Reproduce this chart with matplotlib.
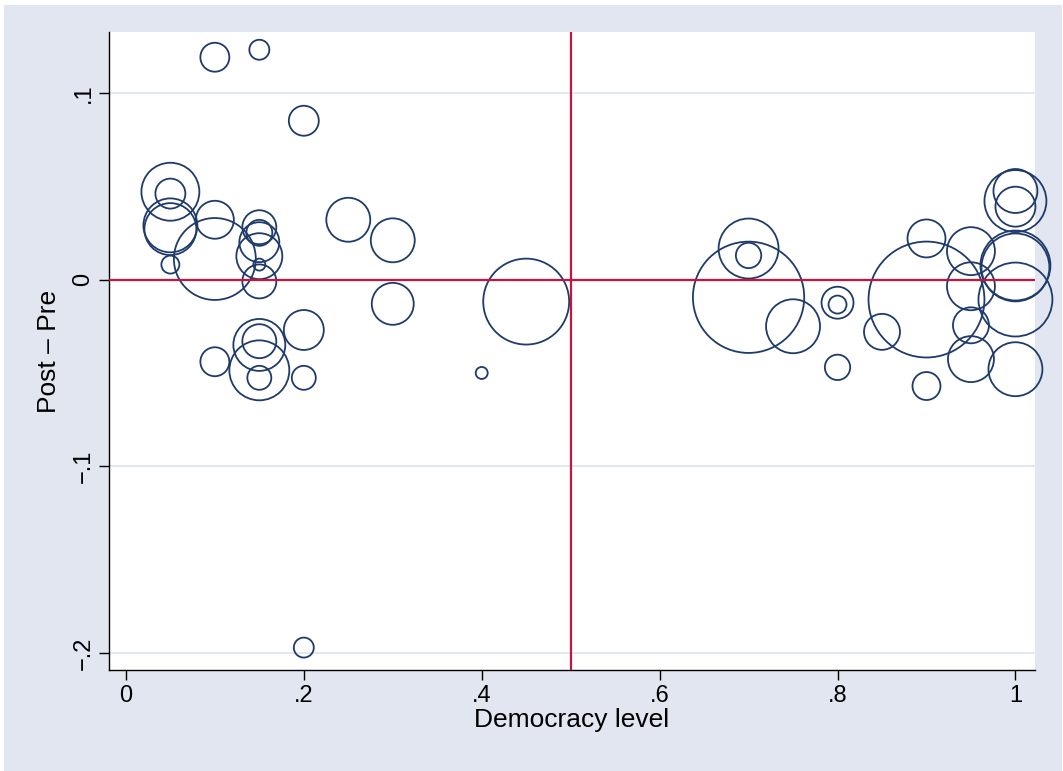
import matplotlib
matplotlib.use("Agg")
import matplotlib.pyplot as plt
from matplotlib.patches import Rectangle
import numpy as np

plt.rcParams['font.family'] = ['Liberation Sans', 'DejaVu Sans']

democracy = [0.10, 0.15, 0.20, 0.05, 0.05, 0.05, 0.05, 0.05, 0.10, 0.10,
             0.15, 0.15, 0.15, 0.15, 0.15, 0.15, 0.25, 0.30, 0.30, 0.20,
             0.15, 0.15, 0.10, 0.15, 0.15, 0.20, 0.40, 0.45, 0.20, 0.70,
             0.70, 0.70, 0.75, 0.80, 0.80, 0.80, 0.85, 0.90, 0.90, 0.90,
             0.95, 0.95, 0.95, 0.95, 1.00, 1.00, 1.00, 1.00, 1.00, 1.00, 1.00]
change = [0.119, 0.123, 0.085, 0.047, 0.046, 0.029, 0.027, 0.008, 0.032, 0.011,
          0.028, 0.025, 0.020, 0.0125, 0.008, -0.001, 0.032, 0.021, -0.013, -0.027,
          -0.035, -0.033, -0.044, -0.0486, -0.0526, -0.0526, -0.050, -0.0118, -0.197, 0.0166,
          0.0129, -0.0095, -0.025, -0.0124, -0.0134, -0.047, -0.028, 0.022, -0.0107, -0.057,
          0.0152, -0.0036, -0.0245, -0.0426, 0.042, 0.0474, 0.039, 0.0075, 0.0065, -0.0107, -0.048]
weight = [210, 100, 225, 841, 225, 729, 676, 81, 361, 1681,
          289, 169, 400, 529, 36, 289, 484, 484, 441, 400,
          676, 289, 210, 900, 144, 144, 36, 1849, 100, 900,
          161, 3102, 729, 256, 81, 161, 324, 361, 3364, 196,
          576, 576, 324, 529, 961, 484, 400, 1225, 1156, 1369, 729]

xticks = [0, 0.2, 0.4, 0.6, 0.8, 1.0]
xticklabels = ['0', '.2', '.4', '.6', '.8', '1']
yticks = [-0.2, -0.1, 0, 0.1]
yticklabels = ['\u2212.2', '\u2212.1', '0', '.1']

W, H = 1063, 771
fig = plt.figure(figsize=(W / 100, H / 100), dpi=100)
fig.patch.set_facecolor('white')
bg = '#e1e6f0'
fig.patches.append(Rectangle((4 / W, 0), (1062 - 4) / W, (771 - 5) / H,
                             transform=fig.transFigure, facecolor=bg,
                             edgecolor='none', zorder=-10))

ax = fig.add_axes([109 / W, 1 - 670 / H, (1035 - 109) / W, (670 - 32) / H])
ax.set_facecolor('white')

ax.set_xlim(-0.019, 1.022)
ax.set_ylim(-0.209, 0.1325)

for yv in [-0.2, -0.1, 0.1]:
    ax.axhline(yv, color='#dde3ee', lw=1.2, zorder=1)

sizes = [w * 2.07 for w in weight]
ax.scatter(democracy, change, s=sizes, facecolors='none',
           edgecolors='#1f3b6b', linewidths=1.3, zorder=2, clip_on=False)

ax.axhline(0, color='#c8143c', lw=1.6, zorder=3)
ax.axvline(0.5, color='#c8143c', lw=1.6, zorder=3)

ax.set_xticks(xticks)
ax.set_xticklabels(xticklabels, fontsize=17)
ax.set_yticks(yticks)
ax.set_yticklabels(yticklabels, fontsize=17, rotation=90, va='center')
ax.tick_params(axis='both', direction='out', length=7.5, width=1.0, color='black')
ax.tick_params(axis='x', pad=3)
ax.tick_params(axis='y', pad=3)

for side in ['top', 'right']:
    ax.spines[side].set_visible(False)
for side in ['left', 'bottom']:
    ax.spines[side].set_color('black')
    ax.spines[side].set_linewidth(1.0)

ax.set_xlabel('Democracy level', fontsize=19, labelpad=1)
ax.set_ylabel('Post \u2013 Pre', fontsize=19, labelpad=8)

fig.savefig('out.png', dpi=100, facecolor=fig.get_facecolor())
